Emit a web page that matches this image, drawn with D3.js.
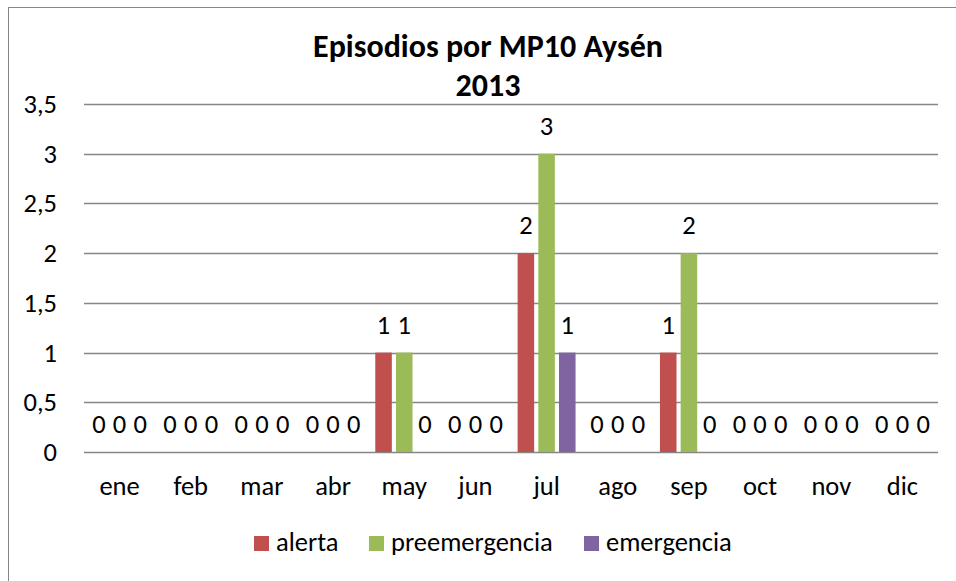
<!DOCTYPE html>
<html>
<head>
<meta charset="utf-8">
<script src="https://cdn.jsdelivr.net/npm/d3@7"></script>
<style>
  body { margin: 0; background: #fff; }
  text { font-family: Carlito, Lato, "Liberation Sans", sans-serif; fill: #000; }
</style>
</head>
<body>
<div id="chart"></div>
<script>
var meses = ['ene', 'feb', 'mar', 'abr', 'may', 'jun', 'jul', 'ago', 'sep', 'oct', 'nov', 'dic'];
var series = ['alerta', 'preemergencia', 'emergencia'];
var alerta = [0, 0, 0, 0, 1, 0, 2, 0, 1, 0, 0, 0];
var preemergencia = [0, 0, 0, 0, 1, 0, 3, 0, 2, 0, 0, 0];
var emergencia = [0, 0, 0, 0, 0, 0, 1, 0, 0, 0, 0, 0];
var yTicks = [0, 0.5, 1, 1.5, 2, 2.5, 3, 3.5];
var colores = ['#C0504D', '#9BBB59', '#8064A2'];

var valores = [alerta, preemergencia, emergencia];
var w = 956, h = 581;
var fs = '26.5px';

var svg = d3.select('#chart').append('svg')
    .attr('width', w)
    .attr('height', h);

// chart border
svg.append('rect')
    .attr('x', 8.5).attr('y', 7.5)
    .attr('width', 960).attr('height', 600)
    .attr('fill', 'none')
    .attr('stroke', '#868686')
    .attr('stroke-width', 1);

var y = d3.scaleLinear().domain([0, 3.5]).range([452, 104]);
var x0 = d3.scaleBand().domain(meses).range([84, 938]).padding(0);
var x1 = d3.scaleBand().domain(series).range([0, x0.bandwidth()])
    .paddingInner(0.2).paddingOuter(0.32);

var loc = d3.formatLocale({ decimal: ',', thousands: '.', grouping: [3], currency: ['$', ''] });
var fmt = loc.format('~g');

// gridlines
svg.append('g').selectAll('line')
    .data(yTicks)
    .enter().append('line')
    .attr('x1', 84).attr('x2', 938)
    .attr('y1', function (d) { return Math.round(y(d)) + 0.5; })
    .attr('y2', function (d) { return Math.round(y(d)) + 0.5; })
    .attr('stroke', '#868686')
    .attr('stroke-width', 1.3);

// y labels
svg.append('g').selectAll('text')
    .data(yTicks)
    .enter().append('text')
    .attr('x', 57)
    .attr('y', function (d) { return y(d) + 9; })
    .attr('text-anchor', 'end')
    .attr('font-size', fs)
    .text(function (d) { return fmt(d); });

// x labels
svg.append('g').selectAll('text')
    .data(meses)
    .enter().append('text')
    .attr('x', function (d) { return x0(d) + x0.bandwidth() / 2; })
    .attr('y', 495)
    .attr('text-anchor', 'middle')
    .attr('font-size', fs)
    .text(function (d) { return d; });

// bars + labels
series.forEach(function (s, si) {
    var g = svg.append('g');
    g.selectAll('rect')
        .data(valores[si])
        .enter().append('rect')
        .attr('x', function (d, i) { return x0(meses[i]) + x1(s); })
        .attr('y', function (d) { return y(d); })
        .attr('width', x1.bandwidth())
        .attr('height', function (d) { return y(0) - y(d); })
        .attr('fill', colores[si]);
    g.selectAll('text')
        .data(valores[si])
        .enter().append('text')
        .attr('x', function (d, i) { return x0(meses[i]) + x1(s) + x1.bandwidth() / 2; })
        .attr('y', function (d) { return y(d) - 19; })
        .attr('text-anchor', 'middle')
        .attr('font-size', fs)
        .text(function (d) { return d; });
});

// title
var title = svg.append('text')
    .attr('x', 488)
    .attr('y', 57)
    .attr('text-anchor', 'middle')
    .attr('font-size', '32px')
    .attr('font-weight', 'bold');
title.append('tspan').attr('x', 488).text('Episodios por MP10 Aysén');
title.append('tspan').attr('x', 488).attr('dy', 39).text('2013');

// legend
var legX = [254, 369, 584];
var leg = svg.append('g').selectAll('g')
    .data(series)
    .enter().append('g')
    .attr('transform', function (d, i) { return 'translate(' + legX[i] + ',536)'; });
leg.append('rect')
    .attr('width', 15).attr('height', 15)
    .attr('fill', function (d, i) { return colores[i]; });
leg.append('text')
    .attr('x', 22).attr('y', 15)
    .attr('font-size', fs)
    .text(function (d) { return d; });
</script>
</body>
</html>
